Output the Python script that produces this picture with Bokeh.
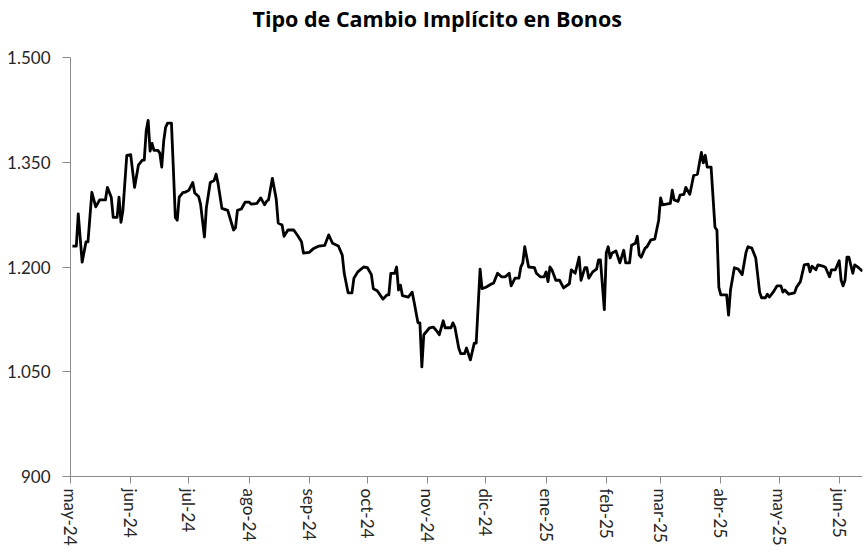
import pandas as pd
from bokeh.plotting import figure
from bokeh.models import FixedTicker, Range1d, ColumnDataSource, Title
from bokeh.embed import file_html
from bokeh.resources import INLINE

dates = [
    "2024-05-02", "2024-05-04", "2024-05-05", "2024-05-07", "2024-05-09", "2024-05-10", "2024-05-12",
    "2024-05-14", "2024-05-16", "2024-05-19", "2024-05-20", "2024-05-22", "2024-05-23", "2024-05-25",
    "2024-05-26", "2024-05-27", "2024-05-28", "2024-05-30", "2024-06-01", "2024-06-03", "2024-06-05",
    "2024-06-07", "2024-06-08", "2024-06-09", "2024-06-10", "2024-06-11", "2024-06-12", "2024-06-13",
    "2024-06-15", "2024-06-16", "2024-06-17", "2024-06-18", "2024-06-19", "2024-06-20", "2024-06-22",
    "2024-06-23", "2024-06-24", "2024-06-25", "2024-06-26", "2024-06-28", "2024-06-29", "2024-07-01",
    "2024-07-03", "2024-07-04", "2024-07-06", "2024-07-07", "2024-07-09", "2024-07-10", "2024-07-12",
    "2024-07-14", "2024-07-15", "2024-07-16", "2024-07-18", "2024-07-21", "2024-07-24", "2024-07-25",
    "2024-07-26", "2024-07-28", "2024-07-30", "2024-08-01", "2024-08-02", "2024-08-05", "2024-08-07",
    "2024-08-09", "2024-08-10", "2024-08-11", "2024-08-13", "2024-08-15", "2024-08-16", "2024-08-18",
    "2024-08-19", "2024-08-21", "2024-08-24", "2024-08-26", "2024-08-28", "2024-08-29", "2024-09-01",
    "2024-09-03", "2024-09-06", "2024-09-09", "2024-09-11", "2024-09-13", "2024-09-16", "2024-09-18",
    "2024-09-19", "2024-09-21", "2024-09-23", "2024-09-24", "2024-09-26", "2024-09-29", "2024-10-01",
    "2024-10-03", "2024-10-04", "2024-10-06", "2024-10-09", "2024-10-11", "2024-10-12", "2024-10-13",
    "2024-10-15", "2024-10-16", "2024-10-17", "2024-10-18", "2024-10-19", "2024-10-22", "2024-10-24",
    "2024-10-25", "2024-10-27", "2024-10-28", "2024-10-29", "2024-10-30", "2024-11-02", "2024-11-04",
    "2024-11-06", "2024-11-07", "2024-11-09", "2024-11-10", "2024-11-13", "2024-11-14", "2024-11-15",
    "2024-11-17", "2024-11-18", "2024-11-20", "2024-11-21", "2024-11-23", "2024-11-25", "2024-11-26",
    "2024-11-28", "2024-11-29", "2024-12-01", "2024-12-04", "2024-12-05", "2024-12-07", "2024-12-09",
    "2024-12-11", "2024-12-13", "2024-12-14", "2024-12-16", "2024-12-18", "2024-12-19", "2024-12-20",
    "2024-12-21", "2024-12-23", "2024-12-26", "2024-12-27", "2024-12-29", "2024-12-31", "2025-01-01",
    "2025-01-02", "2025-01-03", "2025-01-04", "2025-01-06", "2025-01-08", "2025-01-10", "2025-01-13",
    "2025-01-14", "2025-01-16", "2025-01-18", "2025-01-19", "2025-01-21", "2025-01-22", "2025-01-23",
    "2025-01-25", "2025-01-27", "2025-01-28", "2025-01-29", "2025-01-31", "2025-02-01", "2025-02-02",
    "2025-02-03", "2025-02-04", "2025-02-06", "2025-02-08", "2025-02-10", "2025-02-11", "2025-02-13",
    "2025-02-14", "2025-02-16", "2025-02-17", "2025-02-18", "2025-02-19", "2025-02-21", "2025-02-22",
    "2025-02-24", "2025-02-26", "2025-02-28", "2025-03-01", "2025-03-02", "2025-03-04", "2025-03-06",
    "2025-03-07", "2025-03-08", "2025-03-10", "2025-03-11", "2025-03-13", "2025-03-14", "2025-03-16",
    "2025-03-17", "2025-03-18", "2025-03-20", "2025-03-21", "2025-03-22", "2025-03-23", "2025-03-24",
    "2025-03-25", "2025-03-27", "2025-03-29", "2025-03-30", "2025-03-31", "2025-04-01", "2025-04-04",
    "2025-04-05", "2025-04-06", "2025-04-08", "2025-04-10", "2025-04-11", "2025-04-12", "2025-04-14",
    "2025-04-15", "2025-04-17", "2025-04-19", "2025-04-21", "2025-04-22", "2025-04-24", "2025-04-25",
    "2025-04-26", "2025-04-28", "2025-04-30", "2025-05-02", "2025-05-03", "2025-05-04", "2025-05-06",
    "2025-05-09", "2025-05-10", "2025-05-12", "2025-05-14", "2025-05-16", "2025-05-17", "2025-05-18",
    "2025-05-20", "2025-05-21", "2025-05-24", "2025-05-25", "2025-05-27", "2025-05-28", "2025-05-30",
    "2025-06-01", "2025-06-02", "2025-06-03", "2025-06-04", "2025-06-05", "2025-06-06", "2025-06-08",
    "2025-06-09", "2025-06-11", "2025-06-13",
]

values = [
    1230, 1230, 1276, 1207, 1236, 1236, 1307,
    1286, 1296, 1296, 1314, 1300, 1271, 1271,
    1300, 1264, 1281, 1360, 1361, 1314, 1346,
    1353, 1353, 1395, 1410, 1366, 1377, 1367,
    1367, 1363, 1343, 1380, 1400, 1406, 1406,
    1340, 1271, 1267, 1300, 1307, 1307, 1310,
    1321, 1306, 1301, 1290, 1243, 1285, 1321,
    1324, 1333, 1320, 1284, 1281, 1253, 1256,
    1281, 1283, 1293, 1293, 1290, 1291, 1299,
    1289, 1294, 1296, 1327, 1297, 1263, 1260,
    1244, 1253, 1253, 1245, 1236, 1220, 1221,
    1226, 1230, 1231, 1246, 1234, 1230, 1217,
    1191, 1163, 1163, 1184, 1193, 1200, 1199,
    1189, 1169, 1166, 1154, 1160, 1160, 1191,
    1191, 1200, 1167, 1174, 1159, 1157, 1164,
    1150, 1120, 1120, 1057, 1103, 1113, 1114,
    1107, 1103, 1123, 1113, 1113, 1120, 1114,
    1084, 1076, 1076, 1084, 1067, 1091, 1091,
    1197, 1169, 1171, 1176, 1177, 1191, 1186,
    1186, 1191, 1173, 1184, 1184, 1200, 1206,
    1229, 1200, 1199, 1191, 1186, 1186, 1193,
    1179, 1200, 1196, 1181, 1181, 1170, 1176,
    1196, 1191, 1214, 1181, 1199, 1199, 1184,
    1193, 1197, 1210, 1210, 1139, 1220, 1229,
    1213, 1220, 1223, 1206, 1224, 1206, 1206,
    1231, 1234, 1244, 1217, 1214, 1227, 1229,
    1239, 1240, 1267, 1299, 1289, 1290, 1291,
    1310, 1296, 1294, 1303, 1304, 1314, 1304,
    1317, 1331, 1333, 1349, 1364, 1349, 1360,
    1343, 1343, 1257, 1253, 1171, 1160, 1160,
    1131, 1167, 1199, 1197, 1193, 1189, 1221,
    1229, 1227, 1213, 1164, 1156, 1156, 1161,
    1157, 1164, 1173, 1173, 1164, 1167, 1161,
    1163, 1171, 1179, 1203, 1204, 1193, 1201,
    1196, 1203, 1201, 1199, 1186, 1196, 1196,
    1209, 1181, 1173, 1181, 1214, 1214, 1191,
    1203, 1199, 1194,
]

month_ticks = [
    "2024-05-01", "2024-06-01", "2024-07-01", "2024-08-01", "2024-09-01", "2024-10-01", "2024-11-01",
    "2024-12-01", "2025-01-01", "2025-02-01", "2025-03-01", "2025-04-01", "2025-05-01", "2025-06-01",
]
month_labels = [
    "may-24", "jun-24", "jul-24", "ago-24", "sep-24", "oct-24", "nov-24",
    "dic-24", "ene-25", "feb-25", "mar-25", "abr-25", "may-25", "jun-25",
]
y_ticks = [900, 1050, 1200, 1350, 1500]
y_labels = ["900", "1.050", "1.200", "1.350", "1.500"]
title_text = "Tipo de Cambio Implícito en Bonos"


def ms(s):
    return int(pd.Timestamp(s).value // 10**6)


src = ColumnDataSource(data=dict(x=pd.to_datetime(dates), y=values))

p = figure(
    width=865, height=556, x_axis_type="datetime",
    output_backend="svg", toolbar_location=None,
    x_range=Range1d(ms("2024-05-01"), ms("2025-06-13")),
    y_range=Range1d(900, 1500),
    min_border_left=70, min_border_right=3, min_border_top=57, min_border_bottom=80,
    title=title_text,
)
p.background_fill_color = "white"
p.border_fill_color = "white"
p.outline_line_color = None
p.xgrid.visible = False
p.ygrid.visible = False

# invisible spacer between the frame and the title, to lift the title up
spacer = Title(text=" ", text_font_size="1px", standoff=22, text_color="white")
p.add_layout(spacer, "above")

p.title.align = "left"
p.title.offset = 182
p.title.vertical_align = "bottom"
p.title.text_font = "Open Sans"
p.title.text_font_style = "bold"
p.title.text_font_size = "21.5px"
p.title.text_color = "black"
p.title.standoff = 0

p.line("x", "y", source=src, line_color="black", line_width=2.8, line_join="round")

axis_col = "#8c8c8c"
lab_col = "#262626"

yax = p.yaxis[0]
yax.ticker = FixedTicker(ticks=y_ticks)
yax.major_label_overrides = {t: l for t, l in zip(y_ticks, y_labels)}
yax.axis_line_color = axis_col
yax.major_tick_line_color = axis_col
yax.major_tick_out = 8
yax.major_tick_in = 0
yax.minor_tick_line_color = None
yax.major_label_standoff = 12
yax.major_label_text_font = "Lato"
yax.major_label_text_font_size = "17px"
yax.major_label_text_color = lab_col

xax = p.xaxis[0]
xt = [ms(d) for d in month_ticks]
xax.ticker = FixedTicker(ticks=xt)
xax.major_label_overrides = {t: l for t, l in zip(xt, month_labels)}
xax.axis_line_color = axis_col
xax.major_tick_line_color = axis_col
xax.major_tick_out = 7
xax.major_tick_in = 0
xax.minor_tick_line_color = None
xax.major_label_orientation = "vertical"
xax.major_label_standoff = 5
xax.major_label_text_font = "Lato"
xax.major_label_text_font_size = "17px"
xax.major_label_text_color = lab_col

open("out.html", "w").write(file_html(p, INLINE))
